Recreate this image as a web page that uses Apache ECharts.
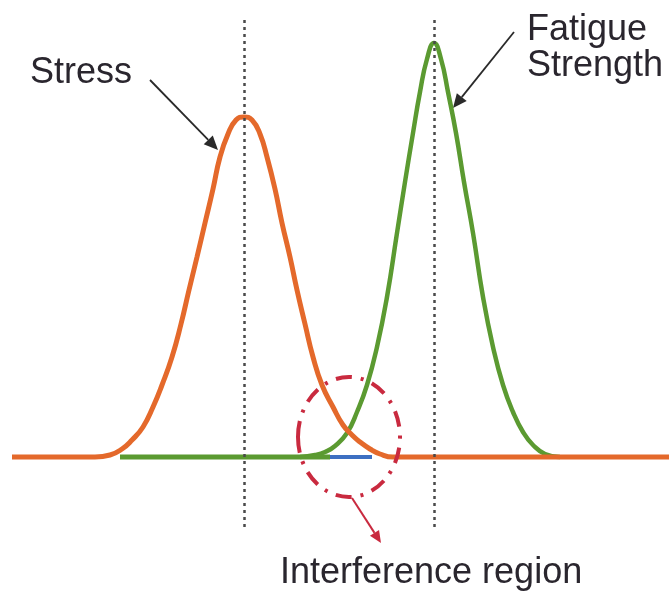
<!DOCTYPE html>
<html>
<head>
<meta charset="utf-8">
<script src="https://cdn.jsdelivr.net/npm/echarts@6/dist/echarts.min.js"></script>
<style>
  html, body { margin: 0; padding: 0; background: #fff; }
  #chart { width: 669px; height: 594px; }
</style>
</head>
<body>
<div id="chart"></div>
<script>
// curves: [x, height above baseline]
const stressCurve = [
  [12, 0], [95, 0], [110, 2], [122, 8], [132, 17], [143, 30], [153, 50], [162, 72],
  [172, 100], [181, 133], [189, 167], [197, 200], [205, 234], [213, 268], [220, 300],
  [228, 323], [236, 337], [244, 340], [252, 337], [260, 323], [267, 300], [275, 268],
  [282, 234], [290, 200], [297, 167], [305, 133], [313, 100], [322, 72], [333, 50],
  [343, 32], [352, 22], [360, 15], [370, 8], [380, 3], [393, 0], [669, 0]
]
const strengthCurve = [
  [300, 0], [315, 2], [325, 5], [335, 11], [347, 24], [357, 45], [367, 72], [377, 110],
  [387, 160], [397, 224], [405, 275], [413, 324], [420, 365], [427, 398], [434, 414],
  [441, 398], [448, 365], [456, 324], [464, 275], [473, 224], [483, 160], [493, 110],
  [503, 72], [513, 45], [523, 25], [533, 12], [545, 3], [560, 0]
]
const strengthBase = [[120, 0], [330, 0]]
const overlapBase = [[330, 0], [372, 0]]
const means = [244, 434]

const chart = echarts.init(document.getElementById('chart'))

function arrow(x1, y1, x2, y2, color, width, head) {
  const a = Math.atan2(y2 - y1, x2 - x1)
  const w = head * 0.45
  const bx = x2 - head * Math.cos(a), by = y2 - head * Math.sin(a)
  return {
    type: 'group',
    children: [
      { type: 'line', shape: { x1: x1, y1: y1, x2: bx, y2: by }, style: { stroke: color, lineWidth: width } },
      {
        type: 'polygon',
        shape: { points: [[x2, y2], [bx - w * Math.sin(a), by + w * Math.cos(a)], [bx + w * Math.sin(a), by - w * Math.cos(a)]] },
        style: { fill: color }
      }
    ]
  }
}

const textStyle = { fill: '#2a262e', fontSize: 36, fontFamily: 'Liberation Sans, Arial, sans-serif', verticalAlign: 'middle' }

let option = {
  backgroundColor: '#fff',
  animation: false,
  grid: { left: 0, right: 0, top: 20, bottom: 67 },
  xAxis: { type: 'value', min: 0, max: 669, show: false },
  yAxis: { type: 'value', min: -70, max: 437, show: false },
  series: [
    {
      name: 'Fatigue Strength',
      type: 'line',
      data: strengthCurve,
      smooth: true,
      showSymbol: false,
      z: 2,
      lineStyle: { color: '#5b9a31', width: 4.5 }
    },
    {
      name: 'Stress',
      type: 'line',
      data: stressCurve,
      smooth: true,
      showSymbol: false,
      z: 3,
      lineStyle: { color: '#e4692b', width: 5 },
      markLine: {
        silent: true,
        symbol: 'none',
        label: { show: false },
        lineStyle: { color: '#4a4a4a', width: 2.5, type: [3, 4] },
        data: means.map(v => ({ xAxis: v }))
      }
    },
    {
      type: 'line',
      data: strengthBase,
      showSymbol: false,
      z: 4,
      lineStyle: { color: '#5b9a31', width: 5 }
    },
    {
      type: 'line',
      data: overlapBase,
      showSymbol: false,
      z: 4,
      lineStyle: { color: '#3d6fc2', width: 4 }
    }
  ],
  graphic: [
    { type: 'text', style: Object.assign({ text: 'Stress', x: 30, y: 73 }, textStyle) },
    { type: 'text', style: Object.assign({ text: 'Fatigue', x: 527, y: 30 }, textStyle) },
    { type: 'text', style: Object.assign({ text: 'Strength', x: 527, y: 66 }, textStyle) },
    { type: 'text', style: Object.assign({ text: 'Interference region', x: 280, y: 573 }, textStyle) },
    arrow(150, 80, 218, 150, '#2a2a2a', 1.8, 14),
    arrow(514, 32, 453, 108, '#2a2a2a', 1.8, 14),
    {
      type: 'ellipse',
      shape: { cx: 349, cy: 437, rx: 51, ry: 60 },
      style: { fill: null, stroke: '#c92a3f', lineWidth: 4, lineDash: [16, 9, 3, 9] },
      z: 10
    },
    arrow(352, 498, 381, 543, '#c92a3f', 2, 12)
  ]
}

option && chart.setOption(option)
</script>
</body>
</html>
